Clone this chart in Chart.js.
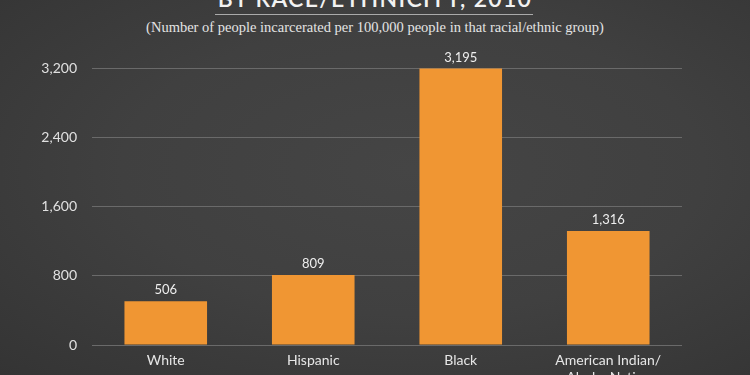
<!DOCTYPE html>
<html lang="en">
<head>
  <meta charset="UTF-8">
  <title>Incarceration rates by race/ethnicity, 2010</title>
  <script src="https://cdn.jsdelivr.net/npm/chart.js"></script>
  <style>
    html, body { margin: 0; padding: 0; }
    body {
      width: 750px; height: 375px; overflow: hidden; position: relative;
      background: radial-gradient(ellipse at 55% 45%, #454545 0%, #404040 50%, #343434 100%);
    }
    #title {
      position: absolute; left: 0; width: 750px; top: -16px;
      text-align: center; color: #f2f2f2; line-height: 22px;
      font: 600 23px "Lato", sans-serif; letter-spacing: 1.3px;
    }
    #rule {
      position: absolute; left: 215px; width: 318px; top: 14px;
      border-top: 1px solid #aaa;
    }
    #subtitle {
      position: absolute; left: 0; width: 750px; top: 19px;
      text-align: center; color: #e4e4e4;
      font: 14.5px "Liberation Serif", serif;
    }
    #wrap { position: absolute; left: 0; top: 0; width: 750px; height: 395px; }
  </style>
</head>
<body>
  <div id="title">BY RACE/ETHNICITY, 2010</div>
  <div id="rule"></div>
  <div id="subtitle">(Number of people incarcerated per 100,000 people in that racial/ethnic group)</div>
  <div id="wrap"><canvas id="chart" width="750" height="395"></canvas></div>

  <script>
    const groups = ['White', 'Hispanic', 'Black', ['American Indian/', 'Alaska Native']];
    const rates = [506, 809, 3195, 1316];
    const yTicks = [0, 800, 1600, 2400, 3200];

    // draws the value above each bar
    const barLabels = {
      id: 'barLabels',
      afterDatasetsDraw(chart) {
        const ctx = chart.ctx;
        ctx.save();
        ctx.fillStyle = '#eeeeee';
        ctx.font = '13px Lato, sans-serif';
        ctx.textAlign = 'center';
        ctx.textBaseline = 'middle';
        chart.getDatasetMeta(0).data.forEach((bar, i) => {
          ctx.fillText(rates[i].toLocaleString('en-US'), bar.x, bar.y - 11);
        });
        ctx.restore();
      }
    };

    const ctx = document.getElementById('chart').getContext('2d');
    const chart = new Chart(ctx, {
      type: 'bar',
      data: {
        labels: groups,
        datasets: [{
          data: rates,
          backgroundColor: '#f09633',
          borderWidth: 0,
          barPercentage: 1,
          categoryPercentage: 0.56
        }]
      },
      options: {
        responsive: false,
        animation: false,
        layout: { padding: { top: 68, right: 68, left: 0, bottom: 0 } },
        plugins: { legend: { display: false }, tooltip: { enabled: false } },
        scales: {
          x: {
            grid: { display: false, drawTicks: false },
            border: { display: false },
            ticks: { color: '#e6e6e6', font: { family: 'Lato', size: 14 }, padding: 7, maxRotation: 0 },
            afterFit: axis => { axis.height = 50; }
          },
          y: {
            min: 0,
            max: 3200,
            afterBuildTicks: axis => { axis.ticks = yTicks.map(v => ({ value: v })); },
            grid: { color: '#6a6a6a', lineWidth: 1, drawTicks: false },
            border: { display: false },
            ticks: {
              color: '#e0e0e0',
              font: { family: 'Lato', size: 14 },
              padding: 15,
              callback: v => v.toLocaleString('en-US')
            },
            afterFit: axis => { axis.width = 92; }
          }
        }
      },
      plugins: [barLabels]
    });
  </script>
</body>
</html>
